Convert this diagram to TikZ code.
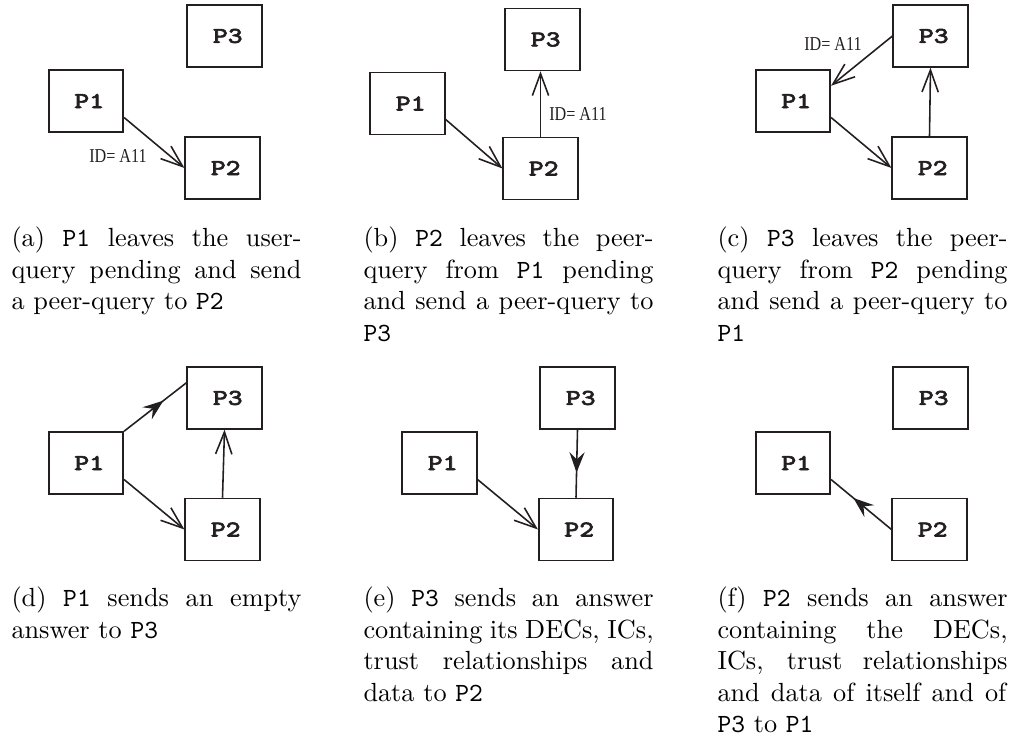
\documentclass[tikz,border=0pt]{standalone}
\usepackage{fontspec}
\usepackage{graphicx}
\newfontfamily\idfont{Liberation Serif}
\newfontfamily\boxfont[FakeBold=2.6]{Latin Modern Mono}
\usetikzlibrary{arrows.meta,decorations.markings,calc}
\definecolor{ink}{RGB}{35,31,32}
\newcommand\plab[1]{\hspace*{2.5pt}\scalebox{1.25}[1]{#1}}
\begin{document}
\begin{tikzpicture}[x=0.381pt,y=-0.381pt,
  peer/.style={draw=ink, line width=0.6pt, minimum width=28.4pt, minimum height=23.6pt, inner sep=0pt,
    font=\boxfont\fontsize{8.6}{8.6}\selectfont, text=ink},
  query/.style={draw=ink, line width=0.6pt, -{Straight Barb[length=8.4pt,width=6.2pt]}},
  answer/.style={draw=ink, line width=0.6pt, postaction={decorate},
    decoration={markings, mark=at position 0.63 with {\arrow{Stealth[length=7.8pt,width=5.8pt,inset=2.8pt]}}}},
  idlab/.style={inner sep=0pt, font=\idfont\fontsize{7.5}{8}\selectfont, text=ink},
  captext/.style={anchor=base west, text width=110.5pt, align=justify, inner sep=0pt, font=\fontsize{10}{12}\selectfont}
]
\useasboundingbox (0,0) rectangle (1014,742);

% (a)
\node[peer] (a3) at (224.5,36) {\plab{P3}};
\node[peer] (a1) at (86,101) {\plab{P1}};
\node[peer] (a2) at (222.5,168) {\plab{P2}};
\draw[query] ($(a1.south east)!0.24!(a1.north east)$) -- (a2.west);
\node[idlab] (al) at (118,156) {\scalebox{0.82}[1]{ID= A11}};

% (b)
\node[peer] (b3) at (542.5,39.5) {\plab{P3}};
\node[peer] (b1) at (407.5,103.5) {\plab{P1}};
\node[peer] (b2) at (540.5,168.5) {\plab{P2}};
\draw[query] ($(b1.south east)!0.25!(b1.north east)$) -- (b2.west);
\draw[query] (b2.north) -- (b2.north |- b3.south);
\node[idlab] (bl) at (578,114) {\scalebox{0.82}[1]{ID= A11}};

% (c)
\node[peer] (c3) at (930.5,36) {\plab{P3}};
\node[peer] (c1) at (793,101) {\plab{P1}};
\node[peer] (c2) at (929.5,168) {\plab{P2}};
\draw[query] (c3.west) -- ($(c1.south east)!0.74!(c1.north east)$);
\draw[query] ($(c1.south east)!0.24!(c1.north east)$) -- (c2.west);
\draw[query] (c2.north) -- (c3.south);
\node[idlab] (cl) at (833,44) {\scalebox{0.82}[1]{ID= A11}};

% (d)
\node[peer] (d3) at (224.5,398) {\plab{P3}};
\node[peer] (d1) at (86,463) {\plab{P1}};
\node[peer] (d2) at (222.5,529.5) {\plab{P2}};
\draw[answer] (d1.north east) -- ($(d3.south west)!0.74!(d3.north west)$);
\draw[query] ($(d1.south east)!0.24!(d1.north east)$) -- (d2.west);
\draw[query] (d2.north) -- (d3.south);

% (e)
\node[peer] (e3) at (577.5,398) {\plab{P3}};
\node[peer] (e1) at (439.5,463) {\plab{P1}};
\node[peer] (e2) at (576,529.5) {\plab{P2}};
\draw[query] ($(e1.south east)!0.24!(e1.north east)$) -- (e2.west);
\draw[answer] (e3.south) -- (e2.north);

% (f)
\node[peer] (f3) at (930.5,398) {\plab{P3}};
\node[peer] (f1) at (793,463) {\plab{P1}};
\node[peer] (f2) at (929.5,529.5) {\plab{P2}};
\draw[answer] (f2.west) -- ($(f1.south east)!0.24!(f1.north east)$);

% captions
\node[captext] (capa) at (11,247) {(a) \texttt{P1} leaves the user-\linebreak query pending and send\linebreak a peer-query to \texttt{P2}};
\node[captext] (capb) at (363,247) {(b) \texttt{P2} leaves the peer-\linebreak query from \texttt{P1} pending\linebreak and send a peer-query to\linebreak \texttt{P3}};
\node[captext] (capc) at (717,247) {(c) \texttt{P3} leaves the peer-\linebreak query from \texttt{P2} pending\linebreak and send a peer-query to\linebreak \texttt{P1}};
\node[captext] (capd) at (11,607) {(d) \texttt{P1} sends an empty\linebreak answer to \texttt{P3}};
\node[captext] (cape) at (363,607) {(e) \texttt{P3} sends an answer\linebreak containing its DECs, ICs,\linebreak trust relationships and\linebreak data to \texttt{P2}};
\node[captext] (capf) at (717,607) {(f) \texttt{P2} sends an answer\linebreak containing the DECs,\linebreak ICs, trust relationships\linebreak and data of itself and of\linebreak \texttt{P3} to \texttt{P1}};
\end{tikzpicture}
\end{document}
